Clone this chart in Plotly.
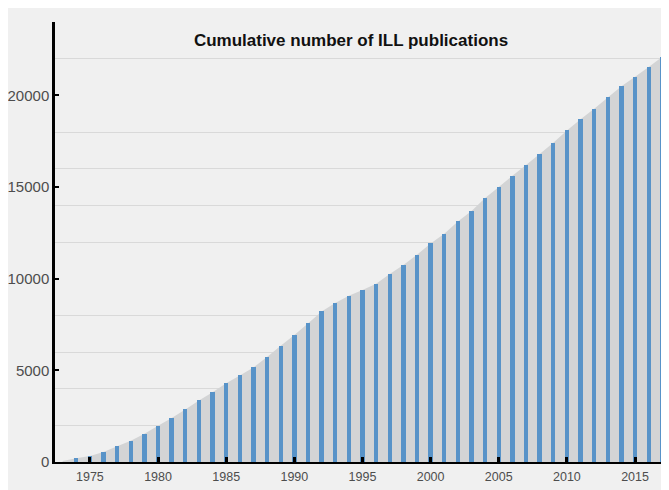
import plotly.graph_objects as go

years = list(range(1973, 2018))
cumulative = [60, 200, 330, 545, 855, 1165, 1545, 1980, 2400, 2870, 3360, 3800, 4290,
              4725, 5160, 5725, 6345, 6925, 7560, 8215, 8670, 9070, 9380, 9725,
              10250, 10740, 11305, 11925, 12450, 13120, 13685, 14395, 14995, 15610,
              16195, 16795, 17410, 18085, 18700, 19265, 19885, 20500, 21010, 21540, 22100]
x_tick_years = [1975, 1980, 1985, 1990, 1995, 2000, 2005, 2010, 2015]
y_tick_values = [0, 5000, 10000, 15000, 20000]
title_text = "Cumulative number of ILL publications"

XR = [1972.44, 2017.49]
YR = [0, 24000]

fig = go.Figure()
# shaded area on the base axes
fig.add_trace(go.Scatter(x=years, y=cumulative, fill="tozeroy", mode="none",
                         fillcolor="#d3d4d5", hoverinfo="skip", showlegend=False,
                         xaxis="x", yaxis="y"))
# bars on overlay axes so they draw above the area
fig.add_trace(go.Bar(x=years[1:], y=cumulative[1:], width=0.32,
                     marker=dict(color="#5893c8", line=dict(width=0)),
                     showlegend=False, xaxis="x2", yaxis="y2"))

fig.update_layout(
    width=661, height=482,
    margin=dict(l=45, r=0, t=14, b=28),
    paper_bgcolor="#f0f0f0", plot_bgcolor="#f0f0f0",
    title=dict(text="<b>" + title_text + "</b>", x=343 / 661, xanchor="center",
               y=1 - 32 / 482, yanchor="middle",
               font=dict(family="Liberation Sans, Arial", size=17, color="#111111")),
    bargap=0,
    xaxis=dict(range=XR, showticklabels=False, ticks="", showline=False, showgrid=False,
               zeroline=False),
    yaxis=dict(range=YR, showticklabels=False, ticks="", showline=False, showgrid=False,
               zeroline=False,
               minor=dict(dtick=2000, tick0=0, showgrid=True, gridcolor="#d9d9d9",
                          gridwidth=1, ticks="")),
    xaxis2=dict(range=XR, overlaying="x", anchor="y2", side="bottom",
                tickvals=x_tick_years, ticks="inside", ticklen=5, tickwidth=3,
                tickcolor="black", showline=True, linecolor="black", linewidth=2,
                showgrid=False, zeroline=False, ticklabelstandoff=2,
                tickfont=dict(family="Liberation Sans, Arial", size=12.5, color="#4d4d4d")),
    yaxis2=dict(range=YR, overlaying="y", anchor="x2", side="left",
                tickvals=y_tick_values, tickformat="d", ticks="inside", ticklen=4, tickwidth=2,
                tickcolor="black", showline=True, linecolor="black", linewidth=2.5,
                showgrid=False, zeroline=False, ticklabelstandoff=0,
                tickfont=dict(family="Liberation Sans, Arial", size=15, color="#4d4d4d")),
)

fig.write_html("out.html")
